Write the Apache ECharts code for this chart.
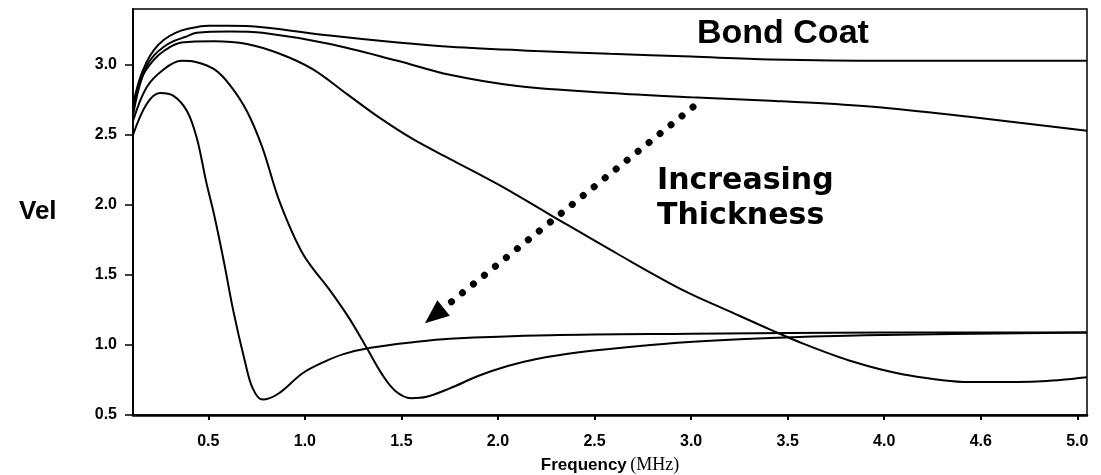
<!DOCTYPE html>
<html>
<head>
<meta charset="utf-8">
<script src="https://cdn.jsdelivr.net/npm/echarts@6/dist/echarts.min.js"></script>
<style>
  html, body { margin: 0; padding: 0; background: #fff; }
  #chart { width: 1101px; height: 475px; }
</style>
</head>
<body>
<div id="chart"></div>
<script>
// frequency (MHz), velocity pairs
const curveA = [[0.11, 2.71], [0.14, 2.88], [0.18, 3.02], [0.22, 3.11], [0.27, 3.18], [0.33, 3.23], [0.4, 3.26], [0.5, 3.28], [0.6, 3.28], [0.78, 3.27], [1.13, 3.21], [1.48, 3.16], [1.75, 3.13], [2.2, 3.1], [2.58, 3.08], [3.0, 3.06], [3.41, 3.04], [4.0, 3.03], [5.05, 3.03]];
const curveB = [[0.11, 2.68], [0.14, 2.85], [0.18, 2.99], [0.22, 3.07], [0.27, 3.13], [0.32, 3.17], [0.38, 3.2], [0.44, 3.23], [0.61, 3.24], [0.78, 3.23], [1.13, 3.15], [1.48, 3.03], [1.75, 2.93], [2.1, 2.85], [2.58, 2.8], [3.0, 2.77], [3.41, 2.745], [3.7, 2.725], [4.0, 2.695], [4.44, 2.63], [5.05, 2.53]];
const curveC = [[0.11, 2.64], [0.16, 2.92], [0.22, 3.04], [0.27, 3.1], [0.36, 3.16], [0.53, 3.17], [0.7, 3.15], [0.87, 3.08], [1.04, 2.97], [1.22, 2.79], [1.39, 2.62], [1.56, 2.47], [1.75, 2.33], [2.01, 2.14], [2.27, 1.93], [2.62, 1.65], [2.96, 1.39], [3.2, 1.24], [3.41, 1.11], [3.58, 1.01], [3.84, 0.88], [4.1, 0.79], [4.44, 0.735], [4.79, 0.74], [5.05, 0.77]];
const curveD = [[0.11, 2.6], [0.18, 2.84], [0.27, 2.97], [0.36, 3.03], [0.44, 3.02], [0.53, 2.97], [0.61, 2.86], [0.7, 2.67], [0.78, 2.41], [0.87, 2.02], [0.99, 1.65], [1.13, 1.39], [1.23, 1.19], [1.32, 0.98], [1.4, 0.79], [1.47, 0.67], [1.55, 0.62], [1.63, 0.63], [1.75, 0.69], [1.9, 0.78], [2.05, 0.85], [2.2, 0.9], [2.4, 0.945], [2.79, 1.0], [3.1, 1.03], [3.41, 1.05], [3.9, 1.07], [5.05, 1.09]];
const curveE = [[0.11, 2.5], [0.18, 2.72], [0.25, 2.8], [0.32, 2.78], [0.39, 2.67], [0.44, 2.48], [0.49, 2.16], [0.53, 1.93], [0.58, 1.6], [0.63, 1.24], [0.69, 0.88], [0.73, 0.69], [0.78, 0.61], [0.86, 0.65], [0.99, 0.8], [1.1, 0.88], [1.2, 0.935], [1.34, 0.98], [1.56, 1.02], [1.75, 1.045], [2.27, 1.07], [3.0, 1.08], [4.0, 1.09], [5.05, 1.09]];

const xTickValues = [0.5, 1.0, 1.5, 2.0, 2.5, 3.0, 3.5, 4.0, 4.5, 5.0];
const xTickLabels = ["0.5", "1.0", "1.5", "2.0", "2.5", "3.0", "3.5", "4.0", "4.6", "5.0"];
const yTickValues = [0.5, 1.0, 1.5, 2.0, 2.5, 3.0];
const yTickLabels = ["0.5", "1.0", "1.5", "2.0", "2.5", "3.0"];

// dotted "increasing thickness" arrow, data coords
const arrowFrom = [3.01, 2.7];
const arrowTo = [1.67, 1.21];

const chart = echarts.init(document.getElementById("chart"));

function curve(data, extra) {
  return Object.assign({
    type: "line",
    data: data,
    smooth: 0.35,
    showSymbol: false,
    symbol: "none",
    silent: true,
    lineStyle: { color: "#000", width: 2 },
  }, extra || {});
}

function pick(values, labels, v) {
  const i = values.findIndex((t) => Math.abs(t - v) < 1e-6);
  return i < 0 ? "" : labels[i];
}

const labelFont = { fontFamily: "Liberation Sans", fontWeight: "bold", fontSize: 16, color: "#000" };

chart.setOption({
  animation: false,
  grid: {
    left: 133, right: 14, top: 9, bottom: 60,
    outerBoundsMode: "none",
    show: true, borderColor: "#000", borderWidth: 1.5,
  },
  xAxis: {
    type: "value",
    min: 0.11,
    max: 5.05,
    axisLine: { lineStyle: { color: "#000", width: 2.5 } },
    axisTick: { show: true, length: 5, customValues: xTickValues, lineStyle: { color: "#000", width: 2 } },
    axisLabel: Object.assign({
      customValues: xTickValues,
      margin: 19,
      formatter: (v) => pick(xTickValues, xTickLabels, v),
    }, labelFont),
    splitLine: { show: false },
    name: "{a|Frequency} {b|(MHz)}",
    nameLocation: "middle",
    nameGap: 41,
    nameTextStyle: {
      rich: {
        a: { fontFamily: "Liberation Sans", fontWeight: "bold", fontSize: 17, color: "#000" },
        b: { fontFamily: "Liberation Serif", fontSize: 18, color: "#000" },
      },
    },
  },
  yAxis: {
    type: "value",
    min: 0.5,
    max: 3.4,
    interval: 0.5,
    axisLine: { show: true, lineStyle: { color: "#000", width: 2 } },
    axisTick: { show: true, length: 8, customValues: yTickValues, lineStyle: { color: "#000", width: 1.5 } },
    axisLabel: Object.assign({
      customValues: yTickValues,
      margin: 16,
      formatter: (v) => pick(yTickValues, yTickLabels, v),
    }, labelFont),
    splitLine: { show: false },
  },
  graphic: [
    { type: "text", left: 19, top: 199, style: { text: "Vel", font: "bold 26px 'Liberation Sans'", fill: "#000" } },
    { type: "text", left: 697, top: 17, style: { text: "Bond Coat", font: "bold 34px 'Liberation Sans'", fill: "#000" } },
    { type: "text", left: 657, top: 164, style: { text: "Increasing\nThickness", font: "bold 30px 'DejaVu Sans'", lineHeight: 35, fill: "#000" } },
  ],
  series: [
    curve(curveA, {
      markLine: {
        silent: true,
        animation: false,
        symbol: ["none", "triangle"],
        symbolSize: [20, 24],
        label: { show: false },
        lineStyle: { color: "#000", width: 7, type: [0.1, 14], cap: "round" },
        data: [[{ coord: arrowFrom }, { coord: arrowTo }]],
      },
    }),
    curve(curveB),
    curve(curveC),
    curve(curveD),
    curve(curveE),
  ],
});
</script>
</body>
</html>
